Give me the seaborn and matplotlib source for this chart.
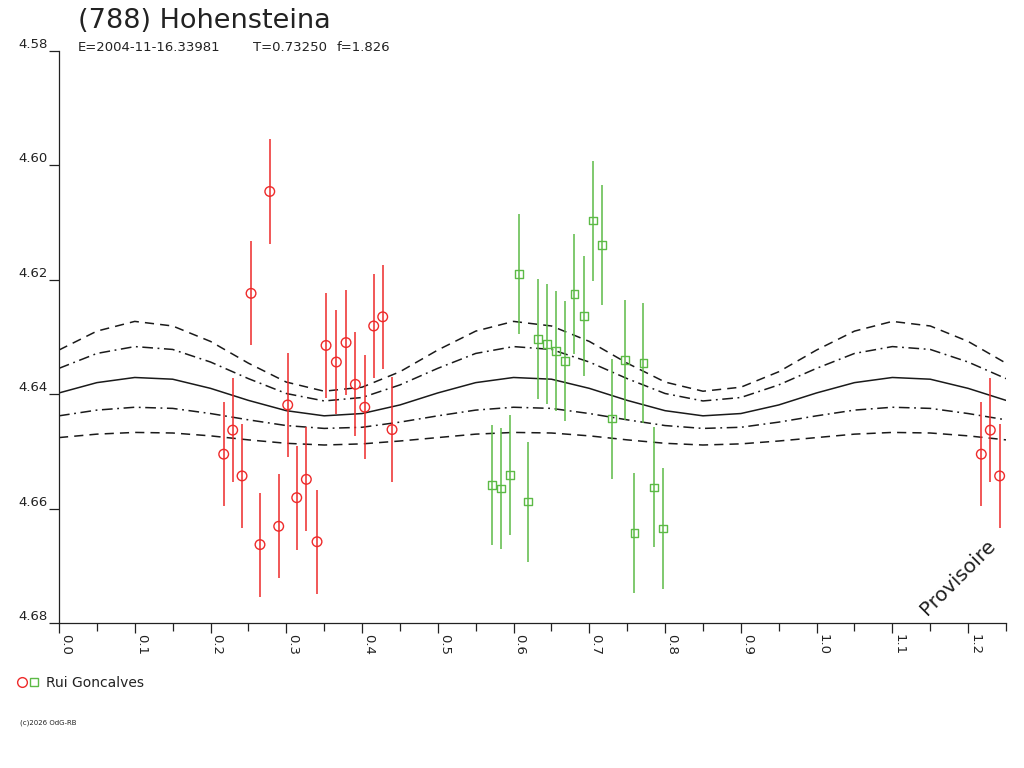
import numpy as np
import pandas as pd
import seaborn as sns
import matplotlib
matplotlib.use("Agg")
import matplotlib.pyplot as plt
from matplotlib.lines import Line2D
from matplotlib.legend_handler import HandlerTuple
from matplotlib.ticker import MultipleLocator, FormatStrFormatter

# Rui Goncalves, session 1 (red circles)
red_phase = [0.2174, 0.2293, 0.2416, 0.2535, 0.2653, 0.2782, 0.2900, 0.3019, 0.3138, 0.3265,
             0.3406, 0.3525, 0.3661, 0.3789, 0.3912, 0.4036, 0.4154, 0.4273, 0.4396]
red_mag = [4.6505, 4.6463, 4.6543, 4.6224, 4.6663, 4.6046, 4.6631, 4.6419, 4.6581, 4.6549,
           4.6658, 4.6315, 4.6344, 4.6310, 4.6383, 4.6423, 4.6281, 4.6265, 4.6462]
red_err = 0.0091

# session 2 (green squares)
green_phase = [0.5712, 0.5831, 0.5950, 0.6073, 0.6191, 0.6323, 0.6442, 0.6561, 0.6680, 0.6803,
               0.6931, 0.7050, 0.7168, 0.7300, 0.7472, 0.7595, 0.7713, 0.7851, 0.7970]
green_mag = [4.6559, 4.6565, 4.6541, 4.6190, 4.6588, 4.6304, 4.6313, 4.6325, 4.6342, 4.6225,
             4.6264, 4.6097, 4.6139, 4.6443, 4.6340, 4.6643, 4.6346, 4.6563, 4.6635]
green_err = 0.0105

# fitted curve and its envelopes, read every 0.05 in phase
fit_phase = [0.00, 0.05, 0.10, 0.15, 0.20, 0.25, 0.30, 0.35, 0.40, 0.45,
             0.50, 0.55, 0.60, 0.65, 0.70, 0.75, 0.80, 0.85, 0.90, 0.95,
             1.00, 1.05, 1.10, 1.15, 1.20, 1.25]
fit_mid = [4.6398, 4.6380, 4.6371, 4.6374, 4.6390, 4.6411, 4.6429, 4.6438, 4.6434, 4.6419,
           4.6398, 4.6380, 4.6371, 4.6374, 4.6390, 4.6411, 4.6429, 4.6438, 4.6434, 4.6419,
           4.6398, 4.6380, 4.6371, 4.6374, 4.6390, 4.6411]
fit_up1 = [4.6355, 4.6329, 4.6317, 4.6322, 4.6344, 4.6373, 4.6399, 4.6412, 4.6406, 4.6384,
           4.6355, 4.6329, 4.6317, 4.6322, 4.6344, 4.6373, 4.6399, 4.6412, 4.6406, 4.6384,
           4.6355, 4.6329, 4.6317, 4.6322, 4.6344, 4.6373]
fit_up2 = [4.6323, 4.6290, 4.6273, 4.6281, 4.6308, 4.6346, 4.6379, 4.6395, 4.6388, 4.6361,
           4.6323, 4.6290, 4.6273, 4.6281, 4.6308, 4.6346, 4.6379, 4.6395, 4.6388, 4.6361,
           4.6323, 4.6290, 4.6273, 4.6281, 4.6308, 4.6346]
fit_lo1 = [4.6438, 4.6428, 4.6423, 4.6425, 4.6434, 4.6445, 4.6455, 4.6460, 4.6458, 4.6449,
           4.6438, 4.6428, 4.6423, 4.6425, 4.6434, 4.6445, 4.6455, 4.6460, 4.6458, 4.6449,
           4.6438, 4.6428, 4.6423, 4.6425, 4.6434, 4.6445]
fit_lo2 = [4.6476, 4.6470, 4.6467, 4.6468, 4.6473, 4.6480, 4.6486, 4.6489, 4.6487, 4.6482,
           4.6476, 4.6470, 4.6467, 4.6468, 4.6473, 4.6480, 4.6486, 4.6489, 4.6487, 4.6482,
           4.6476, 4.6470, 4.6467, 4.6468, 4.6473, 4.6480]

RED = "#ee2a2a"
GREEN = "#5cba46"
TXT = "#222222"

W, H = 1024, 768


def fold(phase, mag):
    # phase axis runs to 1.25, so points below 0.25 show up again at +1
    df = pd.DataFrame({"phase": phase, "mag": mag})
    extra = df[df.phase < 0.25].assign(phase=lambda d: d.phase + 1.0)
    return pd.concat([df, extra], ignore_index=True)


def main():
    sns.set_theme(style="ticks")
    plt.rcParams["font.family"] = ["DejaVu Sans"]

    fig = plt.figure(figsize=(W / 100, H / 100), dpi=100)
    fig.patch.set_facecolor("white")
    ax = fig.add_axes([59 / W, 1 - 623 / H, (1006 - 59) / W, (623 - 50.7) / H])

    curves = pd.DataFrame({"phase": fit_phase, "mid": fit_mid, "up1": fit_up1,
                           "up2": fit_up2, "lo1": fit_lo1, "lo2": fit_lo2})
    styles = {
        "mid": "-",
        "up1": (0, (7, 3, 1.2, 3)),
        "lo1": (0, (7, 3, 1.2, 3)),
        "up2": (0, (6, 4)),
        "lo2": (0, (6, 4)),
    }
    for col, ls in styles.items():
        sns.lineplot(data=curves, x="phase", y=col, color="#1a1a1a", lw=1.1,
                     linestyle=ls, ax=ax, zorder=2)

    for phase, mag, err, color, marker, size in [
            (red_phase, red_mag, red_err, RED, "o", 48),
            (green_phase, green_mag, green_err, GREEN, "s", 30)]:
        df = fold(phase, mag)
        ax.errorbar(df.phase, df.mag, yerr=err, fmt="none", ecolor=color,
                    elinewidth=1.1, capsize=0, zorder=3)
        sns.scatterplot(data=df, x="phase", y="mag", marker=marker, s=size,
                        facecolor="none", edgecolor=color, linewidth=1.0,
                        ax=ax, zorder=4)

    ax.set_xlim(0, 1.25)
    ax.set_ylim(4.68, 4.58)
    ax.set_xlabel("")
    ax.set_ylabel("")

    ax.xaxis.set_major_locator(MultipleLocator(0.1))
    ax.xaxis.set_minor_locator(MultipleLocator(0.05))
    ax.xaxis.set_major_formatter(FormatStrFormatter("%.1f"))
    ax.yaxis.set_major_locator(MultipleLocator(0.02))
    ax.yaxis.set_major_formatter(FormatStrFormatter("%.2f"))

    # tick lengths in points: 10 px / 8 px at 100 dpi
    ax.tick_params(axis="x", which="major", length=7.2, width=0.9, pad=1,
                   labelsize=9.5, labelcolor=TXT, labelrotation=-90, color="#222")
    ax.tick_params(axis="x", which="minor", length=6, width=0.9, color="#222")
    ax.tick_params(axis="y", which="major", length=7.2, width=0.9, pad=1,
                   labelsize=9.5, labelcolor=TXT, color="#222")
    for t in ax.xaxis.get_major_ticks():
        t.label1.set_horizontalalignment("left")
        t.label1.set_verticalalignment("top")
    for t in ax.yaxis.get_major_ticks():
        t.label1.set_verticalalignment("bottom")

    sns.despine(ax=ax)
    for side in ["left", "bottom"]:
        ax.spines[side].set_color("#222")
        ax.spines[side].set_linewidth(0.9)

    # header
    fig.text(78 / W, 1 - 28 / H, "(788) Hohensteina", fontsize=19.5, color=TXT, va="baseline")
    for x, s in [(78, "E=2004-11-16.33981"), (253, "T=0.73250"), (337, "f=1.826")]:
        fig.text(x / W, 1 - 51 / H, s, fontsize=9.5, color=TXT, va="baseline")

    fig.text(958 / W, 1 - 577 / H, "Provisoire", fontsize=14.5, color=TXT,
             rotation=45, ha="center", va="center")

    h_red = Line2D([], [], ls="none", marker="o", mfc="none", mec=RED, ms=7, mew=1.0)
    h_green = Line2D([], [], ls="none", marker="s", mfc="none", mec=GREEN, ms=5.5, mew=1.0)
    fig.legend(handles=[(h_red, h_green)], labels=["Rui Goncalves"],
               handler_map={tuple: HandlerTuple(ndivide=None, pad=0.2)},
               loc="center left", bbox_to_anchor=(17 / W, 1 - 683 / H),
               frameon=False, borderpad=0, borderaxespad=0,
               handlelength=1.6, handletextpad=0.5, fontsize=10,
               labelcolor=TXT)

    fig.text(20 / W, 1 - 723 / H, "(c)2026 OdG-RB", fontsize=5, color=TXT, va="center")

    fig.savefig("out.png", dpi=100, facecolor="white")
    plt.close(fig)


if __name__ == "__main__":
    main()
